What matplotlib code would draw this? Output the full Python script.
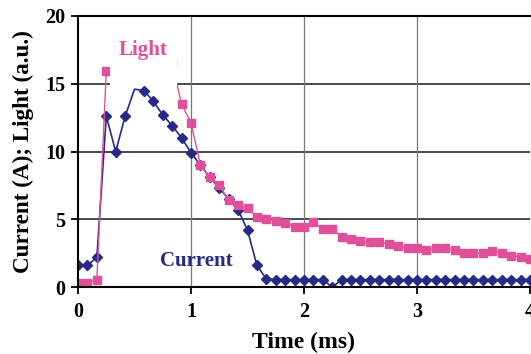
import matplotlib.pyplot as plt
from matplotlib.patches import Rectangle
import numpy as np

# samples every 1/12 ms
time_ms = np.arange(49) / 12.0

current_a = [1.6, 1.6, 2.2, 12.6, 10.0, 12.6, 14.6, 14.5, 13.7, 12.7, 11.9, 11.0,
             9.9, 9.0, 8.1, 7.3, 6.5, 5.7, 4.2, 1.6, 0.6, 0.55, 0.55, 0.55,
             0.55, 0.55, 0.55, 0.0, 0.55, 0.55, 0.55, 0.55, 0.55, 0.55, 0.55, 0.55,
             0.55, 0.55, 0.55, 0.55, 0.55, 0.55, 0.55, 0.55, 0.55, 0.55, 0.55, 0.55,
             0.55]

# light detector saturated between 0.33 and 0.75 ms
nan = np.nan
light_au = [0.3, 0.3, 0.55, 15.95, nan, nan, nan, nan, nan, nan, 16.5, 13.5,
            12.1, 9.0, 8.1, 7.5, 6.4, 6.05, 5.8, 5.2, 5.0, 4.9, 4.75, 4.45,
            4.45, 4.8, 4.25, 4.25, 3.7, 3.55, 3.4, 3.35, 3.35, 3.15, 3.05, 2.85,
            2.85, 2.7, 2.85, 2.85, 2.7, 2.55, 2.5, 2.5, 2.65, 2.5, 2.3, 2.25,
            2.05]

x_ticks = [0, 1, 2, 3, 4]
y_ticks = [0, 5, 10, 15, 20]

navy = '#262a86'
pink = '#e0509a'
font = ['Liberation Serif', 'DejaVu Serif']

fig = plt.figure(figsize=(5.31, 3.54), dpi=100)
ax = fig.add_axes([0.147, 0.189, 0.851, 0.766])

ax.set_xlim(0, 4)
ax.set_ylim(0, 20)

for y in y_ticks[1:]:
    ax.axhline(y, color='#3a3a3a', lw=1.3, zorder=1)
for x in x_ticks[1:4]:
    ax.axvline(x, color='#777777', lw=0.9, zorder=1)

cur_marks = [i for i in range(len(time_ms)) if i != 6]
ax.plot(time_ms, current_a, color=navy, lw=1.2, marker='D', ms=4.6,
        markevery=cur_marks, zorder=3)
ax.plot(time_ms, light_au, color=pink, lw=1.0, marker='s', ms=5.2, zorder=4)

# white label box over the saturated part of the light trace
ax.add_patch(Rectangle((0.28, 14.85), 0.593, 4.95, facecolor='white',
                       edgecolor='none', zorder=5))
ax.text(0.575, 17.5, 'Light', color=pink, fontsize=15, fontweight='bold',
        family=font, ha='center', va='center', zorder=6)
ax.text(1.05, 1.95, 'Current', color=navy, fontsize=15, fontweight='bold',
        family=font, ha='center', va='center', zorder=6)

ax.set_xticks(x_ticks)
ax.set_yticks(y_ticks)
ax.tick_params(direction='out', length=5, width=1.3, labelsize=14.5)
ax.tick_params(axis='x', pad=6)
ax.tick_params(axis='y', pad=4)
for lab in ax.get_xticklabels() + ax.get_yticklabels():
    lab.set_family(font)
    lab.set_fontweight('bold')

for side in ['left', 'bottom', 'top']:
    ax.spines[side].set_linewidth(1.5)
    ax.spines[side].set_color('black')
    ax.spines[side].set_zorder(7)
ax.spines['right'].set_visible(False)

ax.set_xlabel('Time (ms)', fontsize=17, fontweight='bold', family=font, labelpad=7)
ax.set_ylabel('Current (A); Light (a.u.)', fontsize=16.7, fontweight='bold',
              family=font, labelpad=8)

fig.savefig('out.png', dpi=100)
